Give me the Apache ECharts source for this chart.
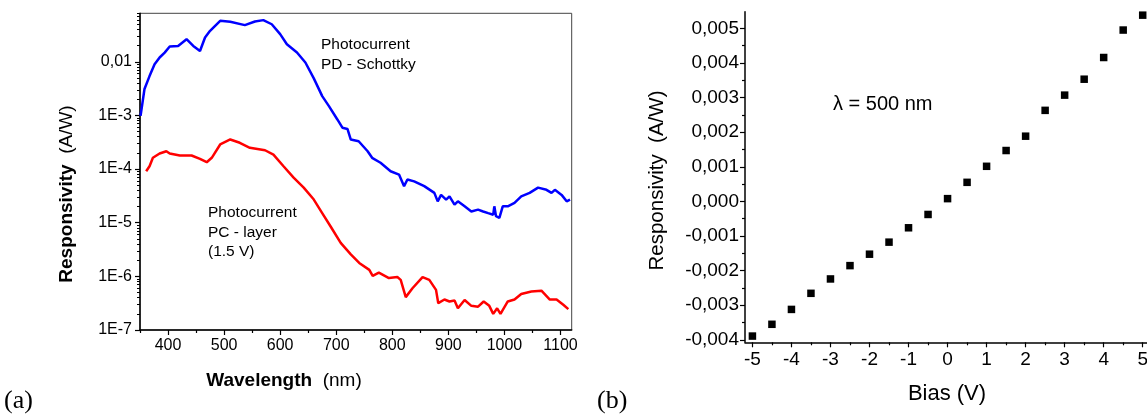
<!DOCTYPE html>
<html><head><meta charset="utf-8">
<script src="https://cdn.jsdelivr.net/npm/echarts@6/dist/echarts.min.js"></script>
<style>html,body{margin:0;padding:0;background:#fff}#c{width:1147px;height:414px}</style>
</head><body><div id="c"></div>
<script>
// ---- Panel (a): spectral responsivity ----
const blueWl = [351,358,367,376,385,394,403,418,433,445,457,466,475,484,493,511,537,555,570,585,600,612,630,645,660,675,687,702,711,720,726,740,756,764,779,797,812,821,827,839,857,875,881,887,896,902,911,917,929,941,953,962,971,980,982,985,991,997,1006,1018,1030,1045,1060,1075,1084,1090,1102,1111,1117];
const blueResp = [9.8e-4,3.1e-3,5.4e-3,9.0e-3,1.2e-2,1.48e-2,1.92e-2,1.97e-2,2.63e-2,1.97e-2,1.59e-2,2.83e-2,3.77e-2,4.68e-2,5.79e-2,5.55e-2,4.81e-2,5.62e-2,5.97e-2,5.0e-2,3.27e-2,2.12e-2,1.49e-2,9.7e-3,4.9e-3,2.29e-3,1.49e-3,8.4e-4,5.9e-4,5.6e-4,3.55e-4,3.3e-4,2.15e-4,1.62e-4,1.31e-4,9.1e-5,7.9e-5,4.8e-5,6.4e-5,5.9e-5,4.8e-5,3.6e-5,2.5e-5,3.3e-5,2.7e-5,3.1e-5,2.17e-5,2.5e-5,2.02e-5,1.62e-5,1.75e-5,1.62e-5,1.51e-5,1.41e-5,2.02e-5,1.32e-5,1.23e-5,2.02e-5,2.02e-5,2.34e-5,3.1e-5,3.6e-5,4.5e-5,4.1e-5,3.6e-5,4.1e-5,3.3e-5,2.5e-5,2.7e-5];
const redWl = [361,367,373,385,397,403,421,442,457,469,478,493,511,528,546,573,588,606,624,642,660,675,690,708,726,741,759,765,776,794,809,815,824,836,854,866,878,882,893,902,911,917,929,941,953,963,973,980,987,993,1006,1018,1030,1048,1066,1081,1093,1105,1114];
const redResp = [9.1e-5,1.13e-4,1.62e-4,1.95e-4,2.15e-4,1.95e-4,1.79e-4,1.79e-4,1.55e-4,1.34e-4,1.62e-4,2.87e-4,3.56e-4,3.09e-4,2.49e-4,2.24e-4,1.86e-4,1.13e-4,6.9e-5,4.5e-5,2.7e-5,1.51e-5,8.5e-6,4.2e-6,2.57e-6,1.78e-6,1.32e-6,1.02e-6,1.17e-6,9.3e-7,9.7e-7,8.6e-7,4.1e-7,6.0e-7,9.7e-7,8.6e-7,5.6e-7,3.16e-7,3.7e-7,3.4e-7,3.55e-7,2.54e-7,3.63e-7,2.82e-7,2.72e-7,3.4e-7,2.82e-7,2.0e-7,2.54e-7,2.0e-7,3.4e-7,3.7e-7,4.7e-7,5.2e-7,5.4e-7,3.7e-7,3.7e-7,2.95e-7,2.45e-7];
const wlTicks = [400,500,600,700,800,900,1000,1100];
const wlMinorTicks = [350,450,550,650,750,850,950,1050];
const respDecades = [1e-7,1e-6,1e-5,1e-4,1e-3,1e-2];
const respMinorFactors = [2,3,4,5,6,7,8,9];

// ---- Panel (b): responsivity vs bias ----
const biasV = [-5,-4.5,-4,-3.5,-3,-2.5,-2,-1.5,-1,-0.5,0,0.5,1,1.5,2,2.5,3,3.5,4,4.5,5];
const biasResp = [-0.00389,-0.00355,-0.00312,-0.002655,-0.00224,-0.001855,-0.001525,-0.001177,-0.000762,-0.000377,0.00008,0.000551,0.001014,0.00147,0.001884,0.00263,0.00307,0.00353,0.004157,0.00495,0.00538];
const biasTicks = [-5,-4,-3,-2,-1,0,1,2,3,4,5];
const biasMinorTicks = [-4.5,-3.5,-2.5,-1.5,-0.5,0.5,1.5,2.5,3.5,4.5];
const linTicks = [-0.004,-0.003,-0.002,-0.001,0,0.001,0.002,0.003,0.004,0.005];
const linMinorTicks = [-0.0035,-0.0025,-0.0015,-0.0005,0.0005,0.0015,0.0025,0.0035,0.0045];

const FONT = '"Liberation Sans", Arial, sans-serif';
const SERIF = '"Liberation Serif", "Times New Roman", serif';
const logMax = 0.08;
const logMinorExp = [];
respDecades.forEach(d => respMinorFactors.forEach(f => { const v = d * f; if (v <= logMax) logMinorExp.push(Math.log10(v)); }));

const chart = echarts.init(document.getElementById('c'), null, {renderer: 'canvas'});
const axisLineA = {show: true, onZero: false, lineStyle: {color: '#000', width: 1.5}};
const noLine = {show: false, onZero: false};
const option = {
  animation: false,
  backgroundColor: '#fff',
  grid: [
    {left: 140, top: 13.3, width: 431.7, height: 316.7, show: true, borderColor: '#444', borderWidth: 1, outerBoundsMode: 'none', containLabel: false},
    {left: 745, top: 11.7, width: 402, height: 330.6, show: false, outerBoundsMode: 'none', containLabel: false}
  ],
  xAxis: [
    {gridIndex: 0, type: 'value', position: 'bottom', min: 350, max: 1120, axisLine: axisLineA,
     axisTick: {show: true, length: 5, lineStyle: {color: '#000', width: 1.2}, customValues: wlTicks},
     axisLabel: {customValues: wlTicks, color: '#000', fontSize: 16, fontFamily: FONT, margin: 8, formatter: v => String(Math.round(v))},
     splitLine: {show: false}},
    {gridIndex: 0, type: 'value', position: 'bottom', min: 350, max: 1120, axisLine: noLine,
     axisTick: {show: true, length: 3, lineStyle: {color: '#000', width: 1.2}, customValues: wlMinorTicks},
     axisLabel: {show: false}, splitLine: {show: false}},
    {gridIndex: 1, type: 'value', position: 'bottom', min: -5.19, max: 5.11, axisLine: axisLineA,
     axisTick: {show: true, length: 5, lineStyle: {color: '#000', width: 1.2}, customValues: biasTicks},
     axisLabel: {customValues: biasTicks, color: '#000', fontSize: 19, fontFamily: FONT, margin: 8, formatter: v => String(Math.round(v))},
     splitLine: {show: false}},
    {gridIndex: 1, type: 'value', position: 'bottom', min: -5.19, max: 5.11, axisLine: noLine,
     axisTick: {show: true, length: 3, lineStyle: {color: '#000', width: 1.2}, customValues: biasMinorTicks},
     axisLabel: {show: false}, splitLine: {show: false}}
  ],
  yAxis: [
    {gridIndex: 0, type: 'log', logBase: 10, position: 'left', min: 1e-7, max: logMax, axisLine: axisLineA,
     axisTick: {show: true, length: 5, lineStyle: {color: '#000', width: 1.2}},
     axisLabel: {color: '#000', fontSize: 16, fontFamily: FONT, margin: 8, showMaxLabel: false,
       formatter: v => { const e = Math.round(Math.log10(v)); return e === -2 ? '0,01' : '1E' + e; }},
     minorTick: {show: false}, splitLine: {show: false}},
    {gridIndex: 0, type: 'value', min: -7, max: Math.log10(logMax), axisLine: noLine, position: 'left',
     axisTick: {show: true, length: 3, lineStyle: {color: '#000', width: 1}, customValues: logMinorExp},
     axisLabel: {show: false}, splitLine: {show: false}},
    {gridIndex: 1, type: 'value', position: 'left', min: -0.00407, max: 0.00548, axisLine: axisLineA,
     axisTick: {show: true, length: 5, lineStyle: {color: '#000', width: 1.2}, customValues: linTicks},
     axisLabel: {customValues: linTicks, color: '#000', fontSize: 19, fontFamily: FONT, margin: 6,
       formatter: v => { const s = Math.abs(v).toFixed(3).replace('.', ','); return (v < -1e-9 ? '-' : '') + s; }},
     splitLine: {show: false}},
    {gridIndex: 1, type: 'value', min: -0.00407, max: 0.00548, axisLine: noLine, position: 'left',
     axisTick: {show: true, length: 3, lineStyle: {color: '#000', width: 1.2}, customValues: linMinorTicks},
     axisLabel: {show: false}, splitLine: {show: false}}
  ],
  series: [
    {type: 'line', xAxisIndex: 0, yAxisIndex: 0, data: blueWl.map((w, i) => [w, blueResp[i]]),
     showSymbol: false, lineStyle: {color: '#0000ff', width: 2.5}, itemStyle: {color: '#0000ff'}},
    {type: 'line', xAxisIndex: 0, yAxisIndex: 0, data: redWl.map((w, i) => [w, redResp[i]]),
     showSymbol: false, lineStyle: {color: '#ff0000', width: 2.5}, itemStyle: {color: '#ff0000'}},
    {type: 'scatter', xAxisIndex: 2, yAxisIndex: 2, data: biasV.map((b, i) => [b, biasResp[i]]),
     symbol: 'rect', symbolSize: 7.5, itemStyle: {color: '#000', opacity: 1}}
  ],
  graphic: [
    {type: 'text', x: 67, y: 194, rotation: Math.PI / 2,
     style: {text: '{b|Responsivity}  (A/W)', fontSize: 19, fontFamily: FONT, fill: '#000', align: 'center', verticalAlign: 'middle',
       rich: {b: {fontSize: 19, fontFamily: FONT, fontWeight: 'bold', fill: '#000'}}}},
    {type: 'text', x: 284, y: 381,
     style: {text: '{b|Wavelength}  (nm)', fontSize: 19, fontFamily: FONT, fill: '#000', align: 'center', verticalAlign: 'middle',
       rich: {b: {fontSize: 19, fontFamily: FONT, fontWeight: 'bold', fill: '#000'}}}},
    {type: 'text', x: 321, y: 35,
     style: {text: 'Photocurrent\nPD - Schottky', fontSize: 15.5, lineHeight: 20, fontFamily: FONT, fill: '#000', align: 'left', verticalAlign: 'top'}},
    {type: 'text', x: 208, y: 203,
     style: {text: 'Photocurrent\nPC - layer\n(1.5 V)', fontSize: 15.5, lineHeight: 19.5, fontFamily: FONT, fill: '#000', align: 'left', verticalAlign: 'top'}},
    {type: 'text', x: 4, y: 401,
     style: {text: '(a)', fontSize: 26, fontFamily: SERIF, fill: '#000', align: 'left', verticalAlign: 'middle'}},
    {type: 'text', x: 597, y: 401,
     style: {text: '(b)', fontSize: 26, fontFamily: SERIF, fill: '#000', align: 'left', verticalAlign: 'middle'}},
    {type: 'text', x: 657, y: 180.5, rotation: Math.PI / 2,
     style: {text: 'Responsivity  (A/W)', fontSize: 20.5, fontFamily: FONT, fill: '#000', align: 'center', verticalAlign: 'middle'}},
    {type: 'text', x: 947, y: 394,
     style: {text: 'Bias (V)', fontSize: 22, fontFamily: FONT, fill: '#000', align: 'center', verticalAlign: 'middle'}},
    {type: 'text', x: 833, y: 104,
     style: {text: 'λ = 500 nm', fontSize: 20, fontFamily: FONT, fill: '#000', align: 'left', verticalAlign: 'middle'}}
  ]
};
chart.setOption(option);
</script></body></html>
